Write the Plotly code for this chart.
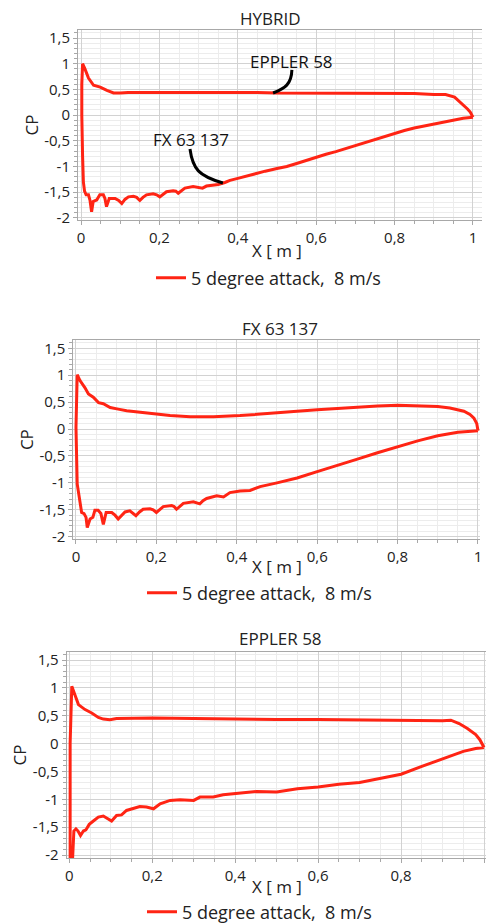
import plotly.graph_objects as go

# ---------------- data ----------------
panel_titles = ["HYBRID", "FX 63 137", "EPPLER 58"]
x_title = "X [ m ]"
y_title = "CP"
series_name = "5 degree attack,\u00a0 8 m/s"

x_ticks = [0, 0.2, 0.4, 0.6, 0.8, 1]
x_tick_text = ["0", "0,2", "0,4", "0,6", "0,8", "1"]
y_ticks = [-2, -1.5, -1, -0.5, 0, 0.5, 1, 1.5]
y_tick_text = ["-2", "-1,5", "-1", "-0,5", "0", "0,5", "1", "1,5"]

# HYBRID : upper branch (TE -> LE) then lower branch (LE -> TE)
hyb_x = [1.0, 0.993, 0.986, 0.97, 0.953, 0.93, 0.9, 0.85, 0.8, 0.75, 0.7, 0.65, 0.6,
         0.55, 0.5, 0.45, 0.4, 0.35, 0.3, 0.25, 0.2, 0.15, 0.12, 0.1, 0.083, 0.066,
         0.049, 0.032, 0.019, 0.01, 0.004,
         0.002, 0.002, 0.004, 0.006, 0.009, 0.013, 0.019, 0.023, 0.027, 0.031, 0.04,
         0.048, 0.057, 0.061, 0.065, 0.072, 0.087, 0.096, 0.104, 0.112, 0.121, 0.134,
         0.142, 0.15, 0.158, 0.167, 0.184, 0.193, 0.201, 0.21, 0.218, 0.235, 0.242,
         0.248, 0.256, 0.265, 0.286, 0.3, 0.31, 0.32, 0.335, 0.35, 0.367, 0.38, 0.4,
         0.42, 0.45, 0.47, 0.5, 0.525, 0.55, 0.575, 0.6, 0.625, 0.65, 0.675, 0.7,
         0.725, 0.75, 0.775, 0.8, 0.825, 0.85, 0.875, 0.9, 0.925, 0.95, 0.975, 1.0]
hyb_y = [-0.04, 0.06, 0.12, 0.23, 0.35, 0.40, 0.40, 0.42, 0.42, 0.42, 0.43, 0.43, 0.43,
         0.43, 0.43, 0.44, 0.44, 0.44, 0.45, 0.45, 0.45, 0.45, 0.44, 0.43, 0.43, 0.48,
         0.545, 0.58, 0.72, 0.9, 1.0,
         0.6, 0.0, -0.8, -1.3, -1.48, -1.55, -1.55, -1.66, -1.88, -1.68, -1.65,
         -1.55, -1.55, -1.62, -1.78, -1.62, -1.62, -1.66, -1.72, -1.64, -1.59, -1.58,
         -1.6, -1.66, -1.6, -1.55, -1.53, -1.55, -1.59, -1.53, -1.49, -1.47, -1.48,
         -1.52, -1.47, -1.42, -1.39, -1.4, -1.42, -1.38, -1.37, -1.35, -1.31, -1.27, -1.23,
         -1.19, -1.12, -1.09, -1.04, -1.0, -0.94, -0.88, -0.81, -0.76, -0.71, -0.65, -0.59,
         -0.53, -0.47, -0.41, -0.35, -0.3, -0.25, -0.21, -0.17, -0.13, -0.09, -0.06, -0.04]

# FX 63 137
fx_x = [1.0, 0.997, 0.99, 0.98, 0.965, 0.95, 0.93, 0.9, 0.85, 0.8, 0.75, 0.7, 0.65, 0.6,
        0.55, 0.5, 0.458, 0.408, 0.342, 0.284, 0.234, 0.2, 0.151, 0.126, 0.105, 0.085,
        0.068, 0.056, 0.043, 0.031, 0.022, 0.01, 0.003,
        0.001, 0.0, 0.003, 0.01, 0.014, 0.02, 0.025, 0.028, 0.035, 0.042, 0.047, 0.055,
        0.062, 0.068, 0.075, 0.089, 0.097, 0.105, 0.114, 0.122, 0.134, 0.142, 0.149,
        0.158, 0.167, 0.184, 0.192, 0.2, 0.208, 0.217, 0.238, 0.244, 0.25, 0.258, 0.267,
        0.292, 0.3, 0.308, 0.316, 0.325, 0.35, 0.367, 0.383, 0.408, 0.433, 0.458, 0.5,
        0.55, 0.6, 0.65, 0.7, 0.75, 0.8, 0.85, 0.9, 0.95, 1.0]
fx_y = [-0.03, 0.1, 0.2, 0.27, 0.33, 0.36, 0.39, 0.42, 0.43, 0.44, 0.43, 0.41, 0.39, 0.36,
        0.33, 0.3, 0.28, 0.25, 0.23, 0.23, 0.25, 0.28, 0.31, 0.34, 0.37, 0.40,
        0.47, 0.49, 0.59, 0.65, 0.77, 0.9, 1.01,
        0.5, 0.03, -1.02, -1.39, -1.55, -1.57, -1.64, -1.83, -1.67, -1.64, -1.51, -1.51,
        -1.57, -1.77, -1.55, -1.55, -1.6, -1.67, -1.59, -1.54, -1.52, -1.56, -1.61,
        -1.54, -1.49, -1.48, -1.5, -1.55, -1.49, -1.44, -1.42, -1.44, -1.49, -1.43, -1.38,
        -1.35, -1.37, -1.39, -1.33, -1.29, -1.24, -1.26, -1.18, -1.15, -1.14, -1.07, -1.0,
        -0.91, -0.79, -0.68, -0.56, -0.44, -0.33, -0.22, -0.125, -0.06, -0.03]

# EPPLER 58
epp_x = [1.0, 0.99, 0.98, 0.96, 0.94, 0.92, 0.9, 0.8, 0.7, 0.6, 0.5, 0.43, 0.3, 0.2,
         0.114, 0.098, 0.082, 0.07, 0.054, 0.038, 0.022, 0.014, 0.006,
         0.002, 0.002, 0.002, 0.008, 0.011, 0.016, 0.021, 0.027, 0.034, 0.04, 0.048,
         0.058, 0.07, 0.082, 0.094, 0.102, 0.114, 0.126, 0.138, 0.154, 0.17, 0.186, 0.203,
         0.219, 0.243, 0.267, 0.3, 0.315, 0.347, 0.371, 0.4, 0.43, 0.452, 0.5, 0.55, 0.6,
         0.65, 0.7, 0.75, 0.8, 0.85, 0.9, 0.95, 0.98, 1.0]
epp_y = [-0.07, 0.07, 0.16, 0.27, 0.36, 0.42, 0.41, 0.42, 0.42, 0.43, 0.43, 0.44, 0.45, 0.46,
         0.45, 0.43, 0.44, 0.47, 0.55, 0.61, 0.70, 0.88, 1.03,
         0.0, -1.0, -2.05, -2.05, -1.57, -1.53, -1.57, -1.65, -1.57, -1.55, -1.45,
         -1.39, -1.32, -1.3, -1.35, -1.39, -1.29, -1.28, -1.2, -1.16, -1.13, -1.14, -1.17,
         -1.08, -1.02, -1.01, -1.02, -0.96, -0.96, -0.92, -0.9, -0.88, -0.86, -0.87, -0.81, -0.78,
         -0.73, -0.7, -0.62, -0.55, -0.41, -0.28, -0.14, -0.09, -0.07]

panel_x = [hyb_x, fx_x, epp_x]
panel_y = [hyb_y, fx_y, epp_y]

# ---------------- layout geometry (pixels of a 487x923 page) ----------------
W, H = 487, 923
# plot area frames: left, right, top, bottom (px)
frames = [(78, 482, 30, 220), (73.3, 480, 340, 539.3), (66.7, 486, 651.7, 858.3)]
x_ranges = [[-0.0077, 1.023], [-0.0067, 1.005], [-0.0063, 1.0048]]
y_ranges = [[-2.04, 1.656], [-2.048, 1.654], [-2.059, 1.649]]
title_pos = [(270, 18), (280, 328), (280, 638)]
xtitle_pos = [(277, 250), (277, 566), (277, 886)]
legend_pos = [(151, 278), (142, 593), (142, 912)]

FONT = "Open Sans"
RED = "#ff2414"
MAJOR = "#d2d2d2"
MINOR = "#ececec"
AXIS = "#a8a8a8"
TXT = "#222222"

fig = go.Figure()
for i in range(3):
    sfx = "" if i == 0 else str(i + 1)
    fig.add_trace(go.Scatter(
        x=panel_x[i], y=panel_y[i], mode="lines", name=series_name,
        line=dict(color=RED, width=3),
        xaxis="x" + sfx, yaxis="y" + sfx,
        legend="legend" + sfx, showlegend=True,
    ))

layout = dict(
    width=W, height=H, margin=dict(l=0, r=0, t=0, b=0, autoexpand=False),
    paper_bgcolor="white", plot_bgcolor="white",
    font=dict(family=FONT, size=15, color=TXT),
    separators=",.",
)
annotations = []
for i in range(3):
    sfx = "" if i == 0 else str(i + 1)
    l, r, t, b = frames[i]
    layout["xaxis" + sfx] = dict(
        domain=[l / W, r / W], range=x_ranges[i], anchor="y" + sfx,
        automargin=False,
        tickvals=x_ticks, ticktext=x_tick_text,
        showgrid=True, gridcolor=MAJOR, gridwidth=1,
        showline=True, linecolor=AXIS, linewidth=1, mirror=True,
        ticks="outside", ticklen=4, tickcolor=AXIS,
        minor=dict(dtick=0.05, tick0=0, showgrid=True, gridcolor=MINOR,
                   ticks="outside", ticklen=3, tickcolor=AXIS),
        zeroline=False,
        tickfont=dict(size=15, color=TXT),
    )
    layout["yaxis" + sfx] = dict(
        domain=[1 - b / H, 1 - t / H], range=y_ranges[i], anchor="x" + sfx,
        automargin=False,
        tickvals=y_ticks, ticktext=y_tick_text,
        showgrid=True, gridcolor=MAJOR, gridwidth=1,
        showline=True, linecolor=AXIS, linewidth=1,
        ticks="outside", ticklen=4, tickcolor=AXIS,
        minor=dict(dtick=0.1, tick0=0, showgrid=True, gridcolor=MINOR,
                   ticks="outside", ticklen=3, tickcolor=AXIS),
        zeroline=False,
        tickfont=dict(size=15, color=TXT),
        title=dict(text=y_title, font=dict(size=17, color=TXT), standoff=1),
    )
    lx, ly = legend_pos[i]
    layout["legend" + sfx] = dict(
        x=lx / W, y=1 - ly / H, xanchor="left", yanchor="middle",
        orientation="h", bgcolor="rgba(0,0,0,0)",
        font=dict(family=FONT, size=18, color=TXT),
    )
    tx, ty = title_pos[i]
    annotations.append(dict(
        text=panel_titles[i], x=tx / W, y=1 - ty / H, xref="paper", yref="paper",
        xanchor="center", yanchor="middle", showarrow=False,
        font=dict(family=FONT, size=17, color=TXT),
    ))
    xx, xy = xtitle_pos[i]
    annotations.append(dict(
        text=x_title, x=xx / W, y=1 - xy / H, xref="paper", yref="paper",
        xanchor="center", yanchor="middle", showarrow=False,
        font=dict(family=FONT, size=17, color=TXT),
    ))

# hand-drawn labels in the HYBRID panel
annotations.append(dict(text="EPPLER 58", x=0.538, y=1.05, xref="x", yref="y",
                        showarrow=False, xanchor="center", yanchor="middle",
                        font=dict(family=FONT, size=17, color="#111111")))
annotations.append(dict(text="FX 63 137", x=0.281, y=-0.465, xref="x", yref="y",
                        showarrow=False, xanchor="center", yanchor="middle",
                        font=dict(family=FONT, size=17, color="#111111")))
layout["annotations"] = annotations
layout["shapes"] = [
    dict(type="path", xref="x", yref="y",
         path="M 0.538,0.88 C 0.537,0.6 0.52,0.52 0.49,0.43",
         line=dict(color="black", width=3)),
    dict(type="path", xref="x", yref="y",
         path="M 0.278,-0.66 C 0.285,-1.05 0.30,-1.18 0.362,-1.32",
         line=dict(color="black", width=3)),
]
fig.update_layout(**layout)
fig.write_html("out.html", config={"displayModeBar": False},
               post_script="document.body.style.margin='0';document.body.style.overflow='hidden';")
